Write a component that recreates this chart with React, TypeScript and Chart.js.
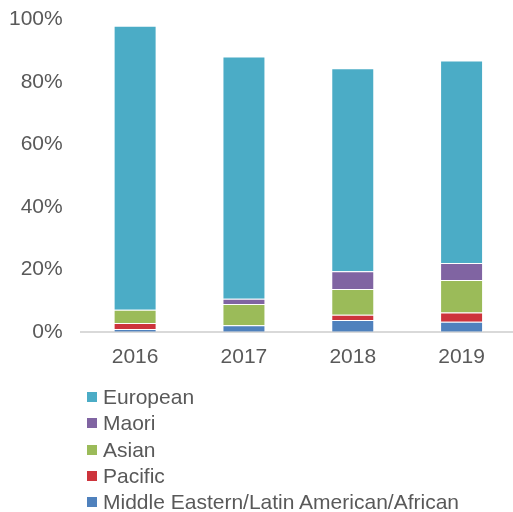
import React, { useEffect, useRef } from "react";
import { Chart, registerables } from "chart.js";

Chart.register(...registerables);

const years = ["2016", "2017", "2018", "2019"];
const melaa = [0.9, 2.1, 3.8, 3.2];
const pacific = [1.9, 0, 1.7, 3.0];
const asian = [4.3, 6.8, 8.2, 10.4];
const maori = [0, 1.7, 5.7, 5.4];
const european = [90.9, 77.6, 65.0, 64.9];

const seriesNames = ["Middle Eastern/Latin American/African", "Pacific", "Asian", "Maori", "European"];
const seriesColors = ["#4F81BD", "#CD343C", "#9BBB59", "#8064A2", "#4BACC6"];
const seriesValues = [melaa, pacific, asian, maori, european];

const FONT = "'Liberation Sans', Arial, sans-serif";
const TEXT = "#595959";

export default function App() {
  const ref = useRef<HTMLCanvasElement | null>(null);
  useEffect(() => {
    if (!ref.current) return;
    const chart = new Chart(ref.current, {
      type: "bar",
      data: {
        labels: years,
        datasets: seriesNames.map((name, i) => ({
          label: name,
          data: seriesValues[i],
          backgroundColor: seriesColors[i],
          borderColor: "rgba(255,255,255,0.35)",
          borderWidth: 1,
          barPercentage: 0.395,
          categoryPercentage: 1,
        })),
      },
      options: {
        animation: false,
        responsive: false,
        maintainAspectRatio: false,
        layout: { padding: { left: 8, top: 7, right: 0, bottom: 129 } },
        plugins: { legend: { display: false }, tooltip: { enabled: false } },
        scales: {
          x: {
            stacked: true,
            grid: { display: false, drawTicks: false },
            border: { display: true, color: "#d9d9d9", width: 2 },
            ticks: { color: TEXT, font: { family: FONT, size: 21 }, padding: 13 },
          },
          y: {
            stacked: true,
            min: 0,
            max: 100,
            grid: { display: false, drawTicks: false },
            border: { display: false },
            ticks: {
              stepSize: 20,
              color: TEXT,
              font: { family: FONT, size: 21 },
              padding: 18,
              callback: (v: any) => v + "%",
            },
          },
        },
      },
    });
    return () => chart.destroy();
  }, []);

  const legendOrder = [4, 3, 2, 1, 0];
  return (
    <div style={{ position: "fixed", left: 0, top: 0, width: 513, height: 512, overflow: "hidden", background: "#fff" }}>
      <canvas
        ref={ref}
        width={533}
        height={523}
        style={{ position: "absolute", left: -17, top: -11, display: "block", width: 533, height: 523 }}
      />
      <div style={{ position: "absolute", left: 87, top: 384, fontFamily: FONT, fontSize: 21, color: TEXT }}>
        {legendOrder.map((i) => (
          <div key={i} style={{ display: "flex", alignItems: "center", height: 26.3, whiteSpace: "nowrap" }}>
            <span style={{ display: "inline-block", width: 10, height: 10, background: seriesColors[i], marginRight: 6 }} />
            <span>{seriesNames[i]}</span>
          </div>
        ))}
      </div>
    </div>
  );
}
